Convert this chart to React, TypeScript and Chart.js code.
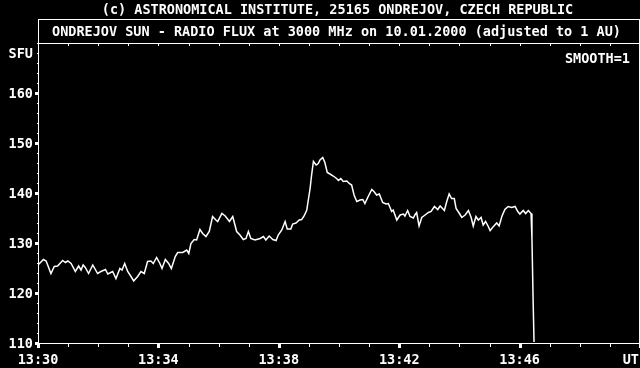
import React, { useEffect, useRef } from 'react';
import { Chart, registerables } from 'chart.js';

Chart.register(...registerables);

// minutes after 13:30 UT
const minutes = [
  0.0, 0.18, 0.27, 0.43, 0.54, 0.65, 0.82, 0.91, 0.99, 1.1, 1.24, 1.35, 1.43, 1.5, 1.57, 1.68, 1.82, 1.98,
  2.09, 2.24, 2.32, 2.48, 2.59, 2.72, 2.79, 2.88, 2.98, 3.09, 3.18, 3.31, 3.42, 3.53, 3.64, 3.75, 3.83, 3.94,
  4.05, 4.12, 4.23, 4.34, 4.43, 4.56, 4.64, 4.81, 4.94, 5.01, 5.08, 5.19, 5.27, 5.38, 5.47, 5.58, 5.69, 5.8,
  5.91, 5.97, 6.11, 6.22, 6.36, 6.47, 6.6, 6.71, 6.82, 6.91, 6.99, 7.07, 7.21, 7.38, 7.49, 7.57, 7.68, 7.8,
  7.91, 7.98, 8.1, 8.21, 8.28, 8.4, 8.46, 8.57, 8.68, 8.76, 8.84, 8.93, 8.98, 9.04, 9.09, 9.15, 9.24, 9.31,
  9.37, 9.46, 9.53, 9.61, 9.7, 9.81, 9.92, 9.98, 10.06, 10.14, 10.26, 10.34, 10.42, 10.5, 10.59, 10.7, 10.79,
  10.86, 10.97, 11.09, 11.16, 11.25, 11.34, 11.45, 11.56, 11.64, 11.75, 11.8, 11.92, 12.03, 12.14, 12.19,
  12.28, 12.36, 12.47, 12.52, 12.58, 12.66, 12.75, 12.86, 12.97, 13.06, 13.17, 13.28, 13.36, 13.5, 13.58,
  13.66, 13.74, 13.83, 13.89, 14.0, 14.08, 14.19, 14.3, 14.39, 14.46, 14.55, 14.63, 14.72, 14.79, 14.87,
  14.96, 15.02, 15.13, 15.24, 15.32, 15.41, 15.51, 15.62, 15.74, 15.85, 15.94, 16.01, 16.12, 16.2, 16.29,
  16.38, 16.41, 16.45, 16.48,
];

// solar radio flux, SFU
const flux = [
  125.6, 126.7, 126.4, 123.9, 125.3, 125.4, 126.5, 126.1, 126.4, 125.9, 124.3, 125.4, 124.6, 125.6, 125.1, 123.9, 125.6, 123.9,
  124.3, 124.7, 123.8, 124.3, 122.9, 124.9, 124.6, 125.9, 124.3, 123.3, 122.4, 123.3, 124.3, 123.9, 126.3, 126.4, 125.9, 127.1,
  125.9, 124.9, 126.7, 125.9, 124.9, 127.3, 128.1, 128.1, 128.6, 127.9, 129.9, 130.7, 130.6, 132.7, 131.9, 131.3, 132.3, 135.3,
  134.6, 134.3, 135.9, 135.4, 134.3, 135.3, 132.3, 131.6, 130.7, 130.9, 132.3, 130.9, 130.6, 130.9, 131.3, 130.6, 131.4, 130.7,
  130.5, 131.6, 132.6, 134.3, 132.8, 132.8, 133.8, 134.0, 134.6, 134.7, 135.4, 136.6, 138.6, 140.9, 143.6, 146.3, 145.6, 145.9,
  146.6, 147.1, 146.1, 144.1, 143.8, 143.4, 142.9, 142.5, 142.9, 142.3, 142.4, 141.9, 141.6, 139.6, 138.3, 138.6, 138.7,
  137.9, 139.3, 140.7, 140.3, 139.6, 139.8, 138.1, 137.8, 137.9, 136.3, 136.6, 134.6, 135.6, 135.8, 135.4,
  136.5, 135.3, 135.0, 135.6, 136.1, 133.4, 135.1, 135.6, 136.1, 136.3, 137.3, 136.7, 137.4, 136.5, 138.3,
  139.8, 138.9, 138.9, 136.9, 135.9, 135.1, 135.6, 136.5, 135.1, 133.4, 135.3, 134.6, 135.1, 133.6, 134.3,
  133.3, 132.5, 133.3, 134.0, 133.4, 135.3, 136.7, 137.3, 137.1, 137.3, 136.3, 135.8, 136.5, 135.9, 136.5,
  135.9, 131.0, 118.2, 110.2,
];

const xTickMinutes = [0, 4, 8, 12, 16];
const xTickLabels = ['13:30', '13:34', '13:38', '13:42', '13:46'];
const yTickValues = [110, 120, 130, 140, 150, 160];
const headerText = '(c) ASTRONOMICAL INSTITUTE, 25165 ONDREJOV, CZECH REPUBLIC';
const titleText = 'ONDREJOV SUN - RADIO FLUX at 3000 MHz on 10.01.2000 (adjusted to 1 AU)';
const yUnit = 'SFU';
const xUnit = 'UT';
const smoothText = 'SMOOTH=1';

const FONT = 'bold 13.5px "DejaVu Sans Mono", "Liberation Mono", monospace';

const framePlugin = {
  id: 'ondrejovFrame',
  afterDraw(chart: any) {
    const { ctx, chartArea: a, scales } = chart;
    const xs = scales.x;
    const ys = scales.y;
    const L = Math.round(a.left);
    const R = Math.round(a.right) - 1;
    const T = Math.round(a.top);
    const B = Math.round(a.bottom);
    const headTop = T - 24;
    ctx.save();
    ctx.strokeStyle = '#fff';
    ctx.fillStyle = '#fff';
    ctx.lineWidth = 1;
    // outer frame + title separator
    ctx.strokeRect(L + 0.5, headTop + 0.5, R - L, B - headTop);
    ctx.beginPath();
    ctx.moveTo(L, T + 0.5);
    ctx.lineTo(R + 1, T + 0.5);
    ctx.stroke();

    // x ticks (every minute), major every 4
    for (let m = xs.min; m <= xs.max; m += 1) {
      const px = Math.round(xs.getPixelForValue(m));
      if (xTickMinutes.includes(m) || m === xs.max) {
        ctx.fillRect(px - 1, B + 1, 3, 4);
      } else {
        ctx.fillRect(px, B + 1, 1, 3);
      }
      ctx.fillRect(px, T + 1, 1, 2);
    }
    // y ticks (every 2 SFU), major every 10
    for (let v = ys.min; v <= ys.max; v += 2) {
      const py = Math.round(ys.getPixelForValue(v));
      if (yTickValues.includes(v)) {
        ctx.fillRect(L - 3, py - 1, 3, 3);
      } else {
        ctx.fillRect(L - 1, py, 1, 1);
      }
    }

    ctx.font = FONT;
    ctx.textBaseline = 'middle';
    // y labels
    ctx.textAlign = 'right';
    yTickValues.forEach((v) => {
      ctx.fillText(String(v), L - 5, ys.getPixelForValue(v) + 1);
    });
    ctx.fillText(yUnit, L - 5, ys.getPixelForValue(168) + 1);
    // x labels
    ctx.textAlign = 'center';
    xTickMinutes.forEach((m, i) => {
      ctx.fillText(xTickLabels[i], xs.getPixelForValue(m), B + 17);
    });
    ctx.textAlign = 'right';
    ctx.fillText(xUnit, R, B + 17);
    // texts
    ctx.fillText(smoothText, R - 9, T + 16);
    ctx.textAlign = 'center';
    ctx.fillText(titleText, (L + R) / 2 - 2, headTop + 13);
    ctx.fillText(headerText, (L + R) / 2 - 1, headTop - 9);
    ctx.restore();
  },
};

export default function App() {
  const ref = useRef<HTMLCanvasElement | null>(null);
  useEffect(() => {
    document.body.style.margin = '0';
    document.body.style.background = '#000';
    const canvas = ref.current;
    if (!canvas) return;
    const chart = new Chart(canvas, {
      type: 'line',
      data: {
        datasets: [
          {
            data: minutes.map((m, i) => ({ x: m, y: flux[i] })),
            borderColor: '#ffffff',
            borderWidth: 1.5,
            pointRadius: 0,
            tension: 0,
            fill: false,
          },
        ],
      },
      options: {
        animation: false,
        responsive: false,
        maintainAspectRatio: false,
        devicePixelRatio: 1,
        layout: { padding: { left: 38, right: 0, top: 43, bottom: 25 } },
        plugins: { legend: { display: false }, tooltip: { enabled: false } },
        scales: {
          x: { type: 'linear', min: 0, max: 20, display: false },
          y: { type: 'linear', min: 110, max: 170, display: false },
        },
      },
      plugins: [framePlugin],
    });
    return () => chart.destroy();
  }, []);
  return (
    <div style={{ position: 'fixed', left: 0, top: 0, width: 640, height: 368, background: '#000' }}>
      <canvas ref={ref} width={640} height={368} style={{ display: 'block', width: 640, height: 368 }} />
    </div>
  );
}
